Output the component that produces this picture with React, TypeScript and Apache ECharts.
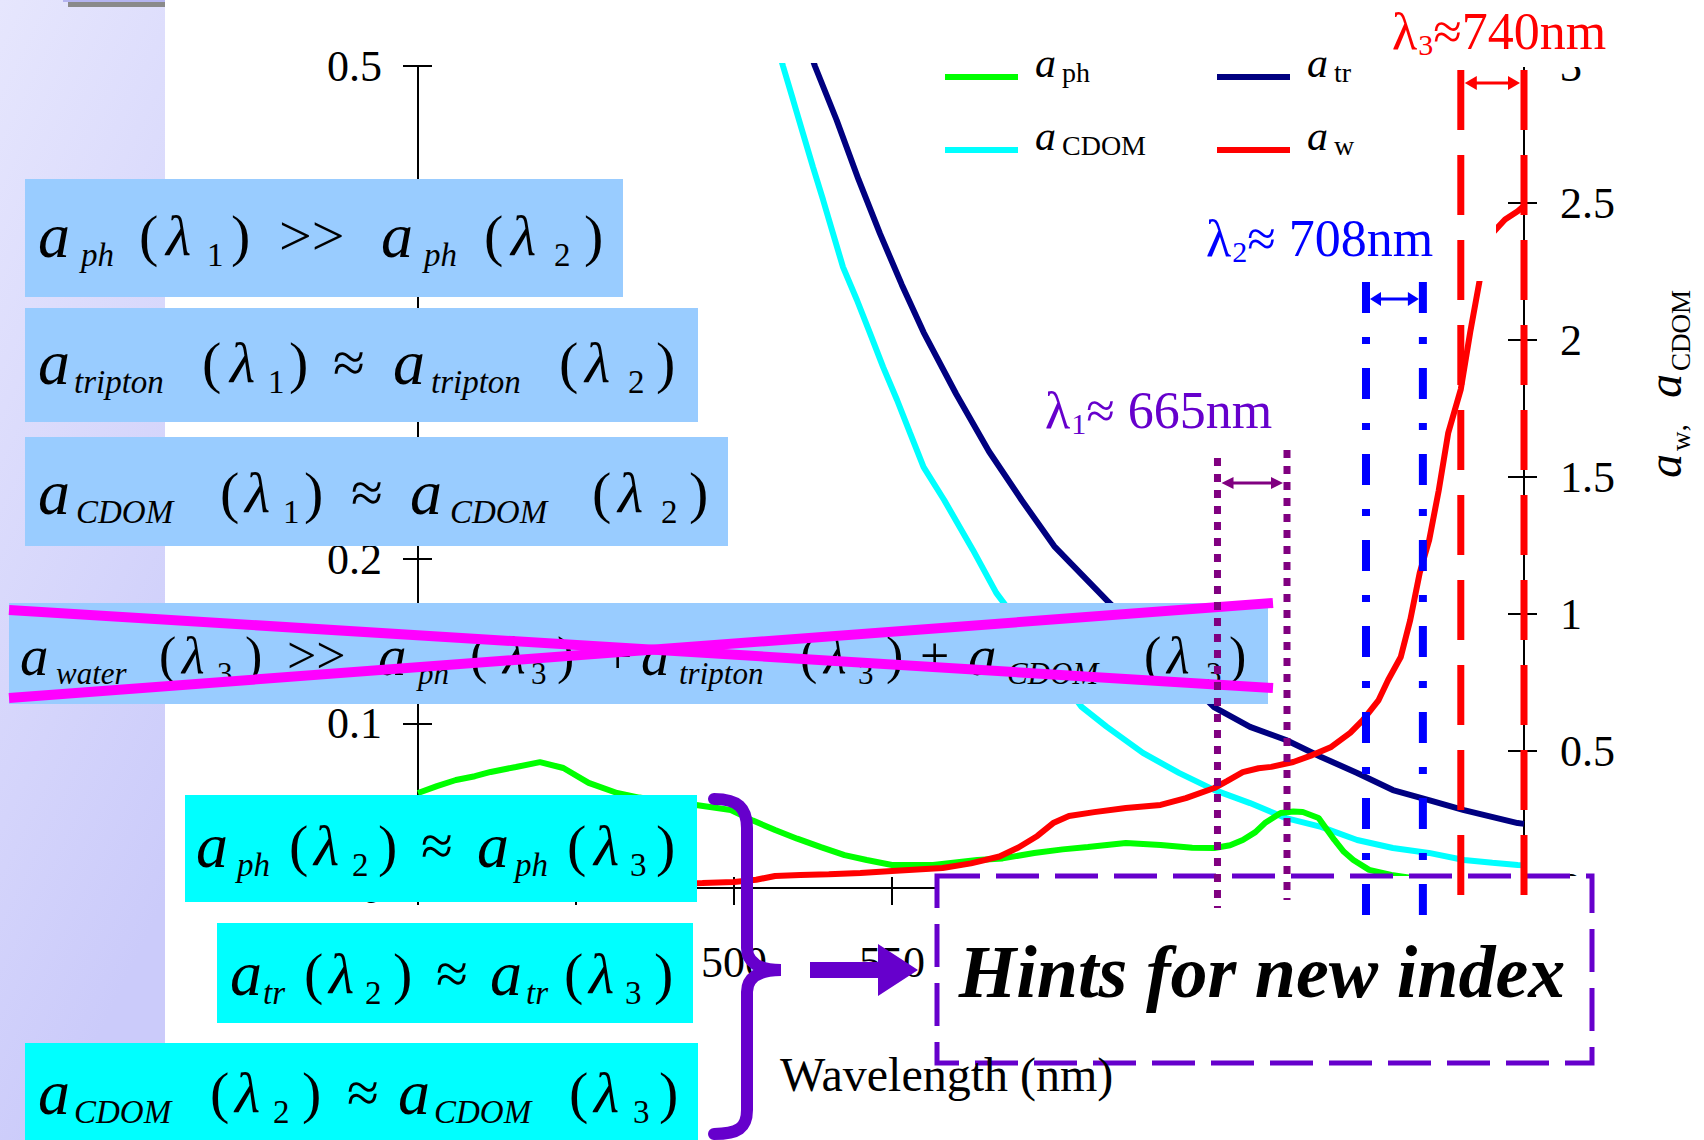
import React, { useEffect, useRef } from 'react';
import * as echarts from 'echarts';

const SERIF = '"Liberation Serif", "Times New Roman", Times, serif';

// ---------- axes ----------
const xMin = 400;
const xMax = 750;
const xStep = 50;
const leftMax = 0.5;
const leftStep = 0.1;
const rightMax = 3;
const rightStep = 0.5;
// tick labels that are not covered by the overlaid boxes
const visibleXLabels = [500, 550];
const visibleLeftLabels = [0, 0.1, 0.2, 0.5];

// ---------- data ----------
const aphNm = [400, 406, 412, 418, 423, 431, 438.6, 446, 454, 463, 470, 480, 488, 499, 506, 513, 520, 527.5, 535, 542, 550, 563, 577, 585, 595, 604, 612, 624, 635, 645, 652, 657, 661, 665, 668, 673, 677, 680, 685, 690, 693, 696, 701, 708, 715, 725, 740, 750];
const aphVal = [0.0578, 0.062, 0.0657, 0.068, 0.0706, 0.0736, 0.0766, 0.073, 0.0639, 0.0578, 0.055, 0.052, 0.0505, 0.0474, 0.041, 0.0353, 0.03, 0.0249, 0.02, 0.017, 0.014, 0.014, 0.017, 0.018, 0.0213, 0.0235, 0.025, 0.0274, 0.0262, 0.0245, 0.0243, 0.026, 0.0292, 0.034, 0.0395, 0.0456, 0.0465, 0.0462, 0.0426, 0.0292, 0.022, 0.017, 0.011, 0.008, 0.006, 0.004, 0.003, 0.003];

const atrNm = [400, 515, 525.6, 532.5, 539.4, 546.2, 553.1, 560, 570.3, 580.7, 591, 601.3, 606.6, 618, 651.9, 663.3, 674.7, 685.8, 697.2, 708.5, 719.9, 731, 748, 750];
const atrVal = [1.5, 0.56, 0.5, 0.467, 0.431, 0.398, 0.367, 0.338, 0.3005, 0.2655, 0.236, 0.208, 0.1975, 0.175, 0.11, 0.098, 0.09, 0.0797, 0.07, 0.0596, 0.0535, 0.0474, 0.0395, 0.039];

const cdomNm = [400, 508, 515.5, 518.7, 521.8, 525, 528.2, 531.3, 534.5, 538.9, 543, 547.2, 551.6, 555.7, 560, 566.5, 575.6, 583, 610, 618, 629.4, 640.8, 651.9, 663.3, 674.7, 685.8, 697.2, 708.5, 719.9, 731, 740, 748, 750];
const cdomVal = [12, 3.3, 3.0, 2.876, 2.755, 2.631, 2.511, 2.39, 2.266, 2.146, 2.026, 1.901, 1.781, 1.661, 1.536, 1.416, 1.234, 1.077, 0.661, 0.588, 0.493, 0.42, 0.358, 0.31, 0.255, 0.223, 0.175, 0.146, 0.128, 0.102, 0.092, 0.084, 0.083];

const awNm = [400, 430, 460, 480, 490, 500, 507, 513, 521, 530, 540, 550, 566, 575, 584, 590, 596, 601, 606, 614, 624, 635, 643, 652, 656, 661, 666, 670, 677, 683, 689, 695, 699, 704, 707, 711, 714, 717, 720, 723, 726, 730, 733, 736, 740, 744, 748, 750];
const awVal = [0.008, 0.01, 0.012, 0.015, 0.018, 0.022, 0.03, 0.044, 0.047, 0.05, 0.055, 0.062, 0.073, 0.09, 0.115, 0.148, 0.19, 0.237, 0.263, 0.277, 0.292, 0.303, 0.328, 0.365, 0.39, 0.423, 0.437, 0.442, 0.46, 0.485, 0.515, 0.566, 0.613, 0.686, 0.759, 0.843, 0.978, 1.15, 1.27, 1.45, 1.66, 1.82, 2.03, 2.22, 2.39, 2.44, 2.47, 2.49];

// band limits (nm) of the three wavelength windows: λ1, λ2, λ3
const markerNm = [653, 675, 700, 718, 730, 750];

const subOf: Record<string, string> = { aph: 'ph', aCDOM: 'CDOM', atr: 'tr', aw: 'w' };

const zip = (a: number[], b: number[]) => a.map((v, i) => [v, b[i]]);

// ---------- brace shape ----------
const braceD =
  'M14,4 C38,4 47,13 47,33 L47,153 C47,167 58,175 81,175 C58,175 47,183 47,197 L47,315 C47,333 38,339 14,339';
echarts.graphic.registerShape('brace', echarts.graphic.extendPath(braceD, {}) as any);

// ---------- formula boxes ----------
type Tok = [number, string, 'A' | 'S' | 'D' | 'P' | 'L'];
interface Formula {
  box: [number, number, number, number];
  fill: string;
  y: number;
  size: number;
  sub: number;
  off: number;
  toks: Tok[];
}
const formulas: Formula[] = [
  {
    box: [25, 179, 598, 118], fill: '#99CCFF', y: 235, size: 58, sub: 33, off: 20,
    toks: [[38, 'a', 'A'], [81, 'ph', 'S'], [139, '(', 'P'], [166, 'λ', 'L'], [207, '1', 'D'], [231, ')', 'P'], [279, '>>', 'P'], [381, 'a', 'A'], [424, 'ph', 'S'], [484, '(', 'P'], [511, 'λ', 'L'], [554, '2', 'D'], [584, ')', 'P']],
  },
  {
    box: [25, 308, 673, 114], fill: '#99CCFF', y: 362, size: 58, sub: 33, off: 20,
    toks: [[38, 'a', 'A'], [74, 'tripton', 'S'], [202, '(', 'P'], [230, 'λ', 'L'], [268, '1', 'D'], [289, ')', 'P'], [333, '≈', 'P'], [393, 'a', 'A'], [431, 'tripton', 'S'], [559, '(', 'P'], [585, 'λ', 'L'], [628, '2', 'D'], [656, ')', 'P']],
  },
  {
    box: [25, 437, 703, 109], fill: '#99CCFF', y: 492, size: 58, sub: 33, off: 20,
    toks: [[38, 'a', 'A'], [76, 'CDOM', 'S'], [220, '(', 'P'], [245, 'λ', 'L'], [283, '1', 'D'], [304, ')', 'P'], [351, '≈', 'P'], [410, 'a', 'A'], [450, 'CDOM', 'S'], [592, '(', 'P'], [618, 'λ', 'L'], [661, '2', 'D'], [689, ')', 'P']],
  },
  {
    box: [9, 603, 1259, 101], fill: '#99CCFF', y: 655, size: 52, sub: 31, off: 18,
    toks: [[20, 'a', 'A'], [56, 'water', 'S'], [159, '(', 'P'], [182, 'λ', 'L'], [217, '3', 'D'], [245, ')', 'P'], [287, '>>', 'P'], [378, 'a', 'A'], [418, 'ph', 'S'], [470, '(', 'P'], [503, 'λ', 'L'], [531, '3', 'D'], [557, ')', 'P'], [603, '+', 'P'], [641, 'a', 'A'], [679, 'tripton', 'S'], [800, '(', 'P'], [824, 'λ', 'L'], [858, '3', 'D'], [886, ')', 'P'], [920, '+', 'P'], [968, 'a', 'A'], [1007, 'CDOM', 'S'], [1144, '(', 'P'], [1167, 'λ', 'L'], [1206, '3', 'D'], [1229, ')', 'P']],
  },
  {
    box: [185, 795, 512, 107], fill: '#00FFFF', y: 845, size: 58, sub: 33, off: 20,
    toks: [[196, 'a', 'A'], [237, 'ph', 'S'], [289, '(', 'P'], [314, 'λ', 'L'], [352, '2', 'D'], [378, ')', 'P'], [421, '≈', 'P'], [477, 'a', 'A'], [515, 'ph', 'S'], [567, '(', 'P'], [594, 'λ', 'L'], [630, '3', 'D'], [656, ')', 'P']],
  },
  {
    box: [217, 923, 476, 100], fill: '#00FFFF', y: 973, size: 58, sub: 33, off: 20,
    toks: [[230, 'a', 'A'], [263, 'tr', 'S'], [304, '(', 'P'], [329, 'λ', 'L'], [365, '2', 'D'], [393, ')', 'P'], [436, '≈', 'P'], [490, 'a', 'A'], [526, 'tr', 'S'], [564, '(', 'P'], [589, 'λ', 'L'], [625, '3', 'D'], [654, ')', 'P']],
  },
  {
    box: [25, 1043, 673, 97], fill: '#00FFFF', y: 1092, size: 58, sub: 33, off: 20,
    toks: [[38, 'a', 'A'], [74, 'CDOM', 'S'], [210, '(', 'P'], [235, 'λ', 'L'], [273, '2', 'D'], [302, ')', 'P'], [347, '≈', 'P'], [398, 'a', 'A'], [434, 'CDOM', 'S'], [569, '(', 'P'], [594, 'λ', 'L'], [633, '3', 'D'], [659, ')', 'P']],
  },
];

function formulaElements(): any[] {
  const out: any[] = [];
  formulas.forEach((f) => {
    out.push({
      type: 'rect',
      shape: { x: f.box[0], y: f.box[1], width: f.box[2], height: f.box[3] },
      style: { fill: f.fill },
      z: 60,
    });
    f.toks.forEach(([x, t, k]) => {
      const isSub = k === 'S' || k === 'D';
      const size = isSub ? f.sub : k === 'A' ? Math.round(f.size * 1.1) : f.size;
      out.push({
        type: 'text',
        x,
        y: isSub ? f.y + f.off : f.y,
        style: {
          text: t,
          fill: '#000',
          fontFamily: SERIF,
          fontSize: size,
          fontStyle: k === 'A' || k === 'L' || k === 'S' ? 'italic' : 'normal',
          align: 'left',
          verticalAlign: 'middle',
        },
        z: 61,
      });
    });
  });
  return out;
}

function arrowEls(xa: number, xb: number, y: number, color: string, hl: number, hw: number): any[] {
  return [
    { type: 'line', shape: { x1: xa + hl - 1, y1: y, x2: xb - hl + 1, y2: y }, style: { stroke: color, lineWidth: 3 }, z: 71 },
    { type: 'polygon', shape: { points: [[xa, y], [xa + hl, y - hw], [xa + hl, y + hw]] }, style: { fill: color }, z: 71 },
    { type: 'polygon', shape: { points: [[xb, y], [xb - hl, y - hw], [xb - hl, y + hw]] }, style: { fill: color }, z: 71 },
  ];
}

export default function App() {
  const ref = useRef<HTMLDivElement>(null);

  useEffect(() => {
    document.body.style.margin = '0';
    document.body.style.overflow = 'hidden';
    const chart = echarts.init(ref.current!, null, { renderer: 'svg' });

    const axisLineStyle = { color: '#000', width: 2 };
    const labelStyle = { fontFamily: SERIF, fontSize: 44, color: '#000' };

    const legendRich = {
      a: { fontFamily: SERIF, fontSize: 42, fontStyle: 'italic', color: '#000', lineHeight: 44, padding: [0, 4, 28, 12] },
      s: { fontFamily: SERIF, fontSize: 28, color: '#000', lineHeight: 44, padding: [0, 0, 10, 2] },
    };
    const legendBase = {
      orient: 'vertical',
      top: 37,
      itemWidth: 73,
      itemHeight: 6,
      itemGap: 3,
      icon: 'rect',
      selectedMode: false,
      formatter: (n: string) => `{a|a}{s|${subOf[n]}}`,
      textStyle: { rich: legendRich },
    };

    const near = (list: number[], v: number) => list.some((u) => Math.abs(u - v) < 1e-6);

    chart.setOption({
      animation: false,
      backgroundColor: '#fff',
      grid: { left: 418, right: 180, top: 66, bottom: 252, containLabel: false },
      legend: [
        { ...legendBase, left: 940, data: ['aph', 'aCDOM'] },
        { ...legendBase, left: 1212, data: ['atr', 'aw'] },
      ],
      xAxis: [
        {
          type: 'value', min: xMin, max: xMax, interval: xStep, position: 'bottom',
          axisLine: { show: true, onZero: false, lineStyle: axisLineStyle },
          axisTick: { show: true, length: 17, lineStyle: axisLineStyle },
          axisLabel: {
            ...labelStyle, margin: 52,
            formatter: (v: number) => (near(visibleXLabels, v) ? String(v) : ''),
          },
          splitLine: { show: false },
        },
        {
          type: 'value', min: xMin, max: xMax, interval: xStep, position: 'bottom',
          axisLine: { show: false, onZero: false },
          axisTick: { show: true, inside: true, length: 11, lineStyle: axisLineStyle },
          axisLabel: { show: false },
          splitLine: { show: false },
        },
      ],
      yAxis: [
        {
          type: 'value', min: 0, max: leftMax, interval: leftStep, position: 'left',
          axisLine: { show: true, onZero: false, lineStyle: axisLineStyle },
          axisTick: { show: true, length: 15, lineStyle: axisLineStyle },
          axisLabel: {
            ...labelStyle, margin: 36,
            formatter: (v: number) => (near(visibleLeftLabels, v) ? String(Math.round(v * 10) / 10) : ''),
          },
          splitLine: { show: false },
        },
        {
          type: 'value', min: 0, max: rightMax, interval: rightStep, position: 'right',
          axisLine: { show: true, onZero: false, lineStyle: axisLineStyle },
          axisTick: { show: true, length: 13, lineStyle: axisLineStyle },
          axisLabel: { ...labelStyle, margin: 36 },
          splitLine: { show: false },
        },
        {
          type: 'value', min: 0, max: leftMax, interval: leftStep, position: 'left',
          axisLine: { show: false, onZero: false },
          axisTick: { show: true, inside: true, length: 14, lineStyle: axisLineStyle },
          axisLabel: { show: false },
          splitLine: { show: false },
        },
        {
          type: 'value', min: 0, max: rightMax, interval: rightStep, position: 'right',
          axisLine: { show: false, onZero: false },
          axisTick: { show: true, inside: true, length: 16, lineStyle: axisLineStyle },
          axisLabel: { show: false },
          splitLine: { show: false },
        },
      ],
      series: [
        { name: 'atr', type: 'line', xAxisIndex: 0, yAxisIndex: 0, data: zip(atrNm, atrVal), showSymbol: false, lineStyle: { color: '#000080', width: 6 }, itemStyle: { color: '#000080' } },
        { name: 'aCDOM', type: 'line', xAxisIndex: 0, yAxisIndex: 1, data: zip(cdomNm, cdomVal), showSymbol: false, lineStyle: { color: '#00FFFF', width: 6 }, itemStyle: { color: '#00FFFF' } },
        { name: 'aph', type: 'line', xAxisIndex: 0, yAxisIndex: 0, data: zip(aphNm, aphVal), showSymbol: false, lineStyle: { color: '#00FF00', width: 6 }, itemStyle: { color: '#00FF00' } },
        { name: 'aw', type: 'line', xAxisIndex: 0, yAxisIndex: 1, data: zip(awNm, awVal), showSymbol: false, lineStyle: { color: '#FF0000', width: 6 }, itemStyle: { color: '#FF0000' } },
      ],
    });

    const px = (nm: number) => chart.convertToPixel({ xAxisIndex: 0 }, nm) as unknown as number;
    const mx = markerNm.map(px);

    const markerStyles = [
      { color: '#800080', w: 7, dash: [8, 8], top: 458, bottom: 908 },
      { color: '#800080', w: 7, dash: [8, 8], top: 450, bottom: 900 },
      { color: '#0000FF', w: 8, dash: [31, 24, 7, 24], top: 282, bottom: 924 },
      { color: '#0000FF', w: 8, dash: [31, 24, 7, 24], top: 282, bottom: 924 },
      { color: '#FF0000', w: 7, dash: [60, 25], top: 70, bottom: 911 },
      { color: '#FF0000', w: 7, dash: [60, 25], top: 70, bottom: 913 },
    ];

    const lamRich = {
      l: { fontFamily: SERIF, fontSize: 52 },
      d: { fontFamily: SERIF, fontSize: 30, padding: [26, 0, 0, 1] },
      t: { fontFamily: SERIF, fontSize: 52 },
    };

    const elements: any[] = [
      // left lavender panel
      {
        type: 'rect', shape: { x: 0, y: 0, width: 165, height: 1140 },
        style: {
          fill: {
            type: 'linear', x: 0, y: 0, x2: 0.3, y2: 1,
            colorStops: [{ offset: 0, color: '#E6E6FD' }, { offset: 1, color: '#CBCBFA' }],
          },
        },
        z: 1,
      },
      { type: 'rect', shape: { x: 63, y: 0, width: 102, height: 2 }, style: { fill: '#B4B4F0' }, z: 1 },
      { type: 'rect', shape: { x: 68, y: 2, width: 97, height: 5 }, style: { fill: '#8A8A8A' }, z: 1 },

      // white box that hides part of the red curve behind λ2 label
      { type: 'rect', shape: { x: 1200, y: 208, width: 296, height: 73 }, style: { fill: '#fff' }, z: 50 },
      // white box behind λ3 label
      { type: 'rect', shape: { x: 1386, y: 0, width: 232, height: 67 }, style: { fill: '#fff' }, z: 71 },

      // dashed "hints" box
      {
        type: 'rect', shape: { x: 937, y: 876, width: 655, height: 187 },
        style: { fill: '#fff', stroke: '#6600CC', lineWidth: 5, lineDash: [43, 16] },
        z: 50,
      },
      {
        type: 'text', x: 1262, y: 972,
        style: { text: 'Hints for new index', fill: '#000', fontFamily: SERIF, fontSize: 74, fontStyle: 'italic', fontWeight: 'bold', align: 'center', verticalAlign: 'middle' },
        z: 72,
      },
      // x axis title
      {
        type: 'text', x: 780, y: 1074,
        style: { text: 'Wavelength (nm)', fill: '#000', fontFamily: SERIF, fontSize: 48, align: 'left', verticalAlign: 'middle' },
        z: 55,
      },
      // right axis title (rotated)
      {
        type: 'text', x: 1664, y: 384, rotation: Math.PI / 2,
        style: {
          text: '{a|a}{s|w}{c|,}{g|    }{a|a}{s|CDOM}',
          fill: '#000', align: 'center', verticalAlign: 'middle',
          rich: {
            a: { fontFamily: SERIF, fontSize: 48, fontStyle: 'italic' },
            s: { fontFamily: SERIF, fontSize: 27, padding: [34, 0, 0, 3] },
            c: { fontFamily: SERIF, fontSize: 30, padding: [22, 0, 0, 0] },
            g: { fontFamily: SERIF, fontSize: 26 },
          },
        },
        z: 55,
      },

      ...formulaElements(),

      // magenta cross over the 4th box
      { type: 'line', shape: { x1: 9, y1: 610, x2: 1273, y2: 688 }, style: { stroke: '#FF00FF', lineWidth: 10 }, z: 62 },
      { type: 'line', shape: { x1: 9, y1: 698, x2: 1273, y2: 603 }, style: { stroke: '#FF00FF', lineWidth: 10 }, z: 62 },

      // brace and arrow
      { type: 'brace', x: 700, y: 795, shape: {}, style: { stroke: '#6600CC', lineWidth: 12, fill: 'none', lineCap: 'round' }, z: 65 },
      {
        type: 'polygon',
        shape: { points: [[810, 962], [878, 962], [878, 944], [918, 970], [878, 996], [878, 978], [810, 978]] },
        style: { fill: '#6600CC' },
        z: 65,
      },
    ];

    // vertical wavelength markers
    markerStyles.forEach((m, i) => {
      elements.push({
        type: 'line',
        shape: { x1: mx[i], y1: m.top, x2: mx[i], y2: m.bottom },
        style: { stroke: m.color, lineWidth: m.w, lineDash: m.dash },
        z: 70,
      });
    });
    elements.push(...arrowEls(mx[0] + 4, mx[1] - 4, 483, '#800080', 12, 6));
    elements.push(...arrowEls(mx[2] + 4, mx[3] - 4, 299, '#0000FF', 11, 7));
    elements.push(...arrowEls(mx[4] + 4, mx[5] - 4, 83, '#FF0000', 12, 7));

    // λ labels
    elements.push(
      {
        type: 'text', x: 1045, y: 410,
        style: { text: '{l|λ}{d|1}{t|≈ 665nm}', fill: '#6600CC', align: 'left', verticalAlign: 'middle', rich: lamRich },
        z: 72,
      },
      {
        type: 'text', x: 1206, y: 238,
        style: { text: '{l|λ}{d|2}{t|≈ 708nm}', fill: '#0000FF', align: 'left', verticalAlign: 'middle', rich: lamRich },
        z: 72,
      },
      {
        type: 'text', x: 1392, y: 31,
        style: { text: '{l|λ}{d|3}{t|≈740nm}', fill: '#FF0000', align: 'left', verticalAlign: 'middle', rich: lamRich },
        z: 72,
      },
    );

    chart.setOption({ graphic: { elements } });

    return () => chart.dispose();
  }, []);

  return <div ref={ref} style={{ width: 1704, height: 1140 }} />;
}
